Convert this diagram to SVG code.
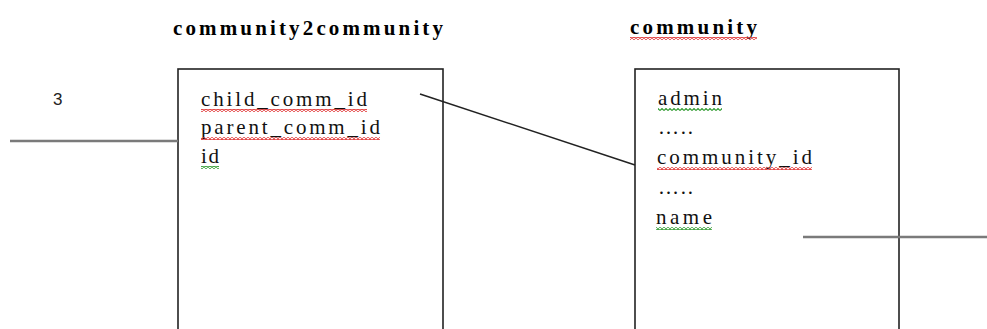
<svg xmlns="http://www.w3.org/2000/svg" width="987" height="329" viewBox="0 0 987 329">
  <defs>
    <!-- spell-check style wavy underlines -->
    <pattern id="wavyRed" patternUnits="userSpaceOnUse" width="4" height="3">
      <path d="M0,2.5 L2,0.5 L4,2.5" fill="none" stroke="#e03030" stroke-width="1.1"/>
    </pattern>
    <pattern id="wavyGreen" patternUnits="userSpaceOnUse" width="4" height="3">
      <path d="M0,2.5 L2,0.5 L4,2.5" fill="none" stroke="#2f9a2f" stroke-width="1.1"/>
    </pattern>
    <style>
      .title { font-family: "Liberation Serif", "DejaVu Serif", serif; font-weight: bold; font-size: 21px; fill: #000; }
      .field { font-family: "Liberation Serif", "DejaVu Serif", serif; font-size: 21px; fill: #111; }
      .num { font-family: "Liberation Sans", Arial, sans-serif; font-size: 17px; fill: #222; }
      .box { fill: #fff; stroke: #222; stroke-width: 1.6; }
      .link { stroke: #222; stroke-width: 1.5; fill: none; }
      .grey { stroke: #7a7a7a; stroke-width: 2.6; fill: none; }
      .sqR { fill: url(#wavyRed); }
      .sqG { fill: url(#wavyGreen); }
    </style>
  </defs>

  <rect width="987" height="329" fill="#fff"/>

  <!-- table: community2community -->
  <g id="community2community">
    <text class="title" x="173" y="35" textLength="270" lengthAdjust="spacing">community2community</text>
    <rect class="box" x="178" y="69" width="265" height="275"/>
    <text class="field" x="201" y="106" textLength="166" lengthAdjust="spacing">child_comm_id</text>
    <rect class="sqR" x="201" y="109" width="166" height="3"/>
    <text class="field" x="201" y="134" textLength="179" lengthAdjust="spacing">parent_comm_id</text>
    <rect class="sqR" x="201" y="137" width="179" height="3"/>
    <text class="field" x="201" y="163" textLength="18" lengthAdjust="spacing">id</text>
    <rect class="sqG" x="201" y="166" width="18" height="3"/>
  </g>

  <!-- table: community -->
  <g id="community">
    <text class="title" x="630" y="34" textLength="127" lengthAdjust="spacing">community</text>
    <rect class="sqR" x="630" y="37" width="127" height="3"/>
    <rect class="box" x="635" y="69" width="264" height="275"/>
    <text class="field" x="658" y="105" textLength="64" lengthAdjust="spacing">admin</text>
    <rect class="sqG" x="658" y="108" width="64" height="3"/>
    <text class="field" x="658" y="134" textLength="35" lengthAdjust="spacing">…..</text>
    <text class="field" x="657" y="164" textLength="155" lengthAdjust="spacing">community_id</text>
    <rect class="sqR" x="657" y="167" width="155" height="3"/>
    <text class="field" x="658" y="194" textLength="35" lengthAdjust="spacing">…..</text>
    <text class="field" x="656" y="224" textLength="56" lengthAdjust="spacing">name</text>
    <rect class="sqG" x="656" y="227" width="56" height="3"/>
  </g>

  <!-- cardinality label -->
  <g id="label-3">
    <text class="num" x="53" y="105">3</text>
  </g>

  <!-- connectors -->
  <g id="connectors">
    <line class="grey" x1="10" y1="141" x2="178" y2="141"/>
    <line class="link" x1="420" y1="94" x2="635" y2="165"/>
    <line class="grey" x1="803" y1="237" x2="987" y2="237"/>
  </g>
</svg>
